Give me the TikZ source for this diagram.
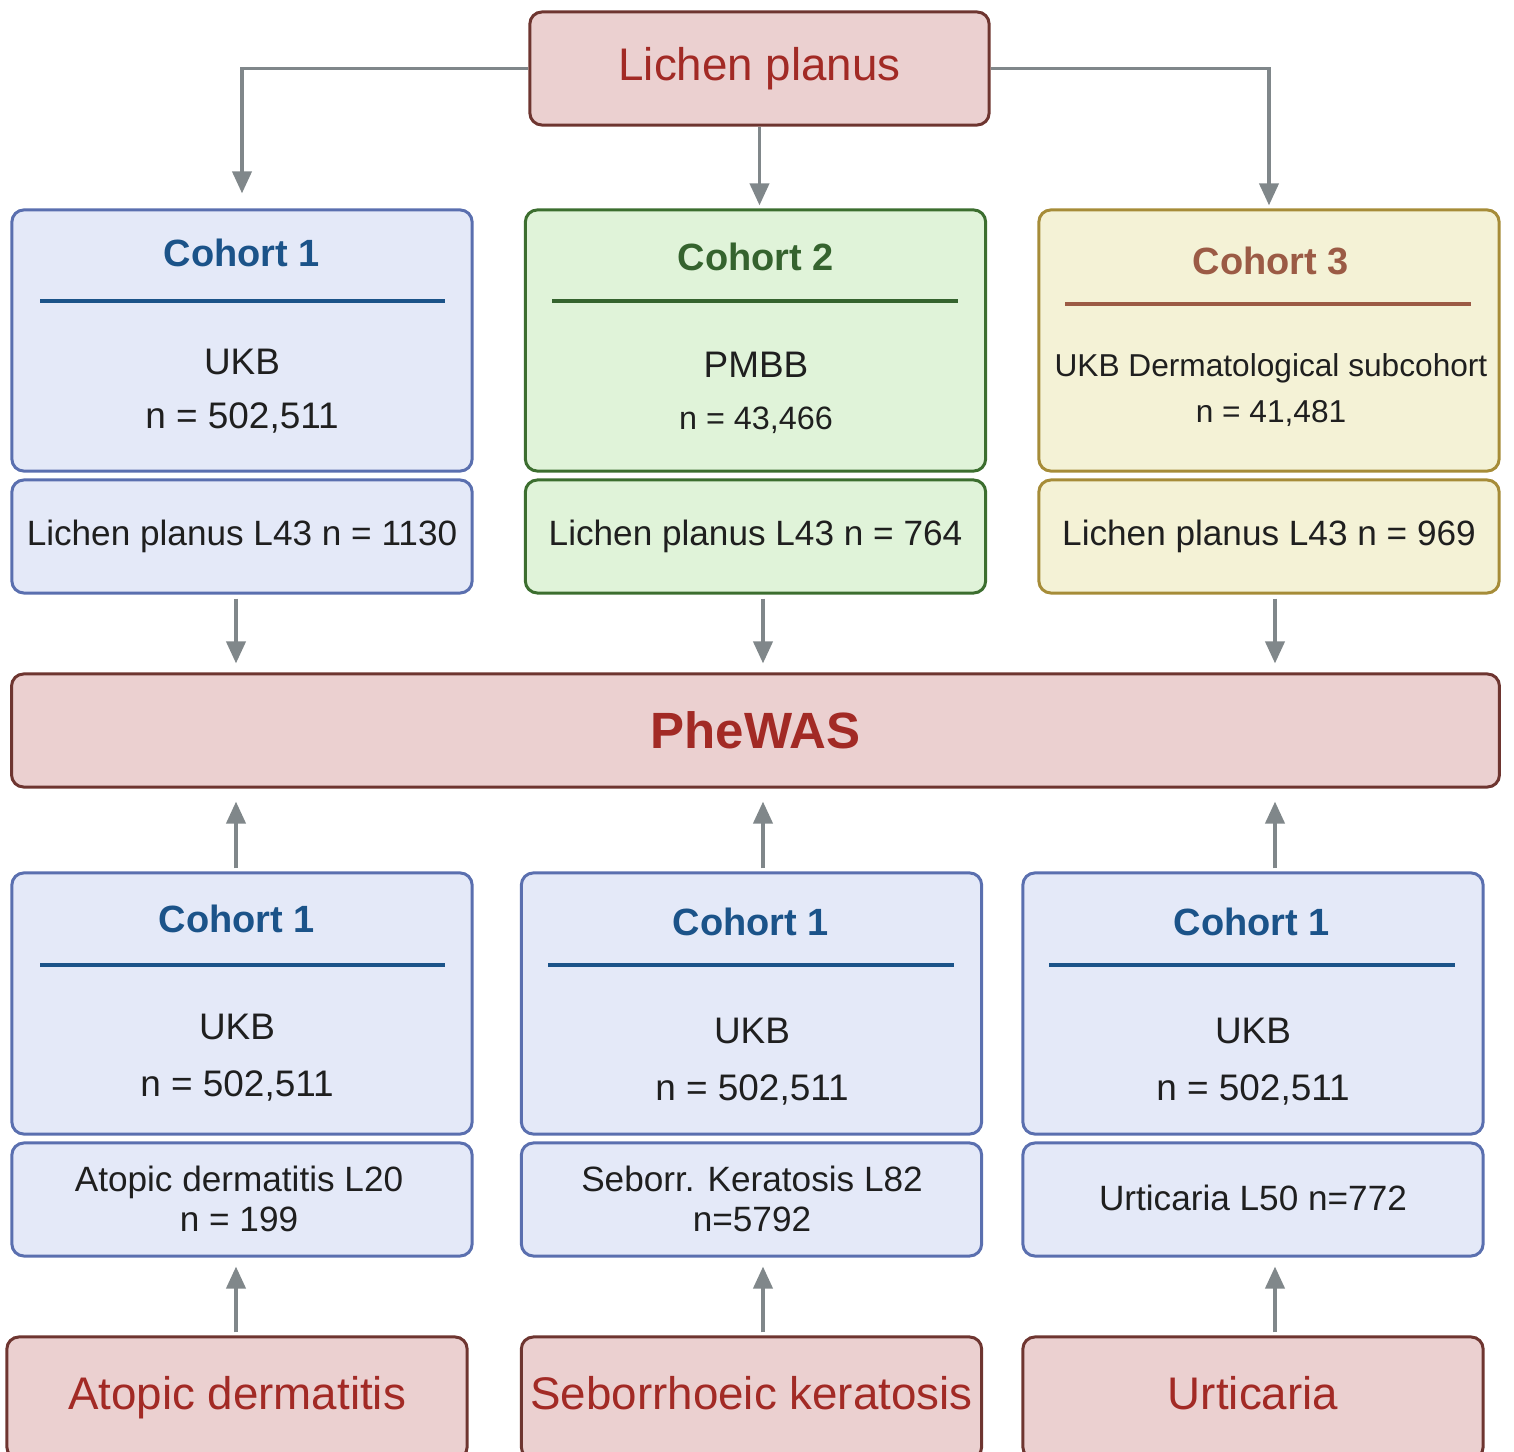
\documentclass[tikz,border=0pt]{standalone}
\usepackage{fontspec}
\setmainfont{Liberation Sans}
\usetikzlibrary{arrows.meta}
\definecolor{CohBlue}{HTML}{1B5389}
\definecolor{CohBlueFill}{HTML}{E4E9F8}
\definecolor{CohBlueLine}{HTML}{5A6FAF}
\definecolor{CohGreen}{HTML}{35632E}
\definecolor{CohGreenFill}{HTML}{E0F3D9}
\definecolor{CohGreenLine}{HTML}{3C6E2F}
\definecolor{CohBrown}{HTML}{9B5B45}
\definecolor{CohYellowFill}{HTML}{F4F2D6}
\definecolor{CohYellowLine}{HTML}{A68C38}
\definecolor{DisRed}{HTML}{A22A25}
\definecolor{DisRedFill}{HTML}{EBD0D0}
\definecolor{DisRedLine}{HTML}{6E3530}
\definecolor{ArrGray}{HTML}{80878A}
\definecolor{TxtDark}{HTML}{1F1F1F}
\tikzset{
  box/.style={draw, line width=0.85pt, rounded corners=0.12cm,
    minimum width=4.6cm, inner sep=0pt, align=center},
  bluebox/.style={box, fill=CohBlueFill, draw=CohBlueLine},
  greenbox/.style={box, fill=CohGreenFill, draw=CohGreenLine},
  yellowbox/.style={box, fill=CohYellowFill, draw=CohYellowLine},
  redbox/.style={box, fill=DisRedFill, draw=DisRedLine, text=DisRed,
    text height=9.5pt, text depth=2.8pt,
    font=\fontsize{13}{15}\selectfont},
  cohtitle/.style={font=\fontsize{10.8}{13}\selectfont\bfseries},
  cohtext/.style={text=TxtDark, font=\fontsize{10.5}{12}\selectfont},
  subtext/.style={text=TxtDark, align=center,
    font=\fontsize{10}{11.4}\selectfont},
  rule/.style={line width=1pt},
  arr/.style={draw=ArrGray, line width=1.1pt,
    -{Triangle[width=0.19cm, length=0.22cm]}}
}
\begin{document}
\begin{tikzpicture}[x=0.01cm, y=-0.01cm]
\useasboundingbox (0,0) rectangle (1514,1452);
\clip (0,0) rectangle (1514,1452);

\coordinate (colA) at (236,0);
\coordinate (colB) at (763,0);
\coordinate (colC) at (1275,0);

\node[redbox, minimum width=4.59cm, minimum height=1.13cm] (lp) at (759.5,68.5) {Lichen planus};

% lichen planus cohorts
\node[bluebox, minimum height=2.61cm] (c1) at (242,340.5) {};
\node[greenbox, minimum height=2.61cm] (c2) at (755.5,340.5) {};
\node[yellowbox, minimum height=2.61cm] (c3) at (1269,340.5) {};
\node[bluebox, minimum height=1.13cm] (s1) at (242,536.5) {};
\node[greenbox, minimum height=1.13cm] (s2) at (755.5,536.5) {};
\node[yellowbox, minimum height=1.13cm] (s3) at (1269,536.5) {};

\node[cohtitle, text=CohBlue] (c1t) at (242,253) {Cohort 1};
\draw[rule, CohBlue] (40,301) -- (445,301);
\node[cohtext] (c1a) at (242,362) {UKB};
\node[cohtext] (c1b) at (242,418) {n = 502,511};

\node[cohtitle, text=CohGreen] (c2t) at (756,257) {Cohort 2};
\draw[rule, CohGreen] (552,301) -- (958,301);
\node[cohtext] (c2a) at (756,365) {PMBB};
\node[cohtext, font=\fontsize{9.2}{11}\selectfont] (c2b) at (756,420) {n = 43,466};

\node[cohtitle, text=CohBrown] (c3t) at (1271,261) {Cohort 3};
\draw[rule, CohBrown] (1065,304) -- (1471,304);
\node[cohtext, font=\fontsize{9}{11}\selectfont] (c3a) at (1271,368) {UKB Dermatological subcohort};
\node[cohtext, font=\fontsize{9}{11}\selectfont] (c3b) at (1271,413) {n = 41,481};

\node[subtext] (s1t) at (242,536) {Lichen planus L43 n = 1130};
\node[subtext] (s2t) at (755.5,536) {Lichen planus L43 n = 764};
\node[subtext] (s3t) at (1269,536) {Lichen planus L43 n = 969};

\node[box, fill=DisRedFill, draw=DisRedLine, text=DisRed, minimum width=14.87cm,
      minimum height=1.13cm, font=\fontsize{14.5}{17}\selectfont\bfseries] (pw) at (755.5,730.5) {PheWAS};

% comparison cohorts
\node[bluebox, minimum height=2.61cm] (b1) at (242,1003.5) {};
\node[bluebox, minimum height=2.61cm] (b2) at (751.5,1003.5) {};
\node[bluebox, minimum height=2.61cm] (b3) at (1253,1003.5) {};
\node[bluebox, minimum height=1.13cm] (t1) at (242,1199.5) {};
\node[bluebox, minimum height=1.13cm] (t2) at (751.5,1199.5) {};
\node[bluebox, minimum height=1.13cm] (t3) at (1253,1199.5) {};

\node[cohtitle, text=CohBlue] (b1t) at (237,919) {Cohort 1};
\draw[rule, CohBlue] (40,965) -- (445,965);
\node[cohtext] (b1a) at (237,1027) {UKB};
\node[cohtext] (b1b) at (237,1086) {n = 502,511};

\node[cohtitle, text=CohBlue] (b2t) at (751,922) {Cohort 1};
\draw[rule, CohBlue] (548,965) -- (954,965);
\node[cohtext] (b2a) at (752,1031) {UKB};
\node[cohtext] (b2b) at (752,1090) {n = 502,511};

\node[cohtitle, text=CohBlue] (b3t) at (1252,922) {Cohort 1};
\draw[rule, CohBlue] (1049,965) -- (1455,965);
\node[cohtext] (b3a) at (1253,1031) {UKB};
\node[cohtext] (b3b) at (1253,1090) {n = 502,511};

\node[subtext] (t1t) at (239,1199) {Atopic dermatitis L20\\n = 199};
\node[subtext] (t2t) at (752,1199) {Seborr. Keratosis L82\\n=5792};
\node[subtext] (t3t) at (1253,1198) {Urticaria L50 n=772};

\node[redbox, minimum height=1.22cm] (d1) at (237,1398) {Atopic dermatitis};
\node[redbox, minimum height=1.22cm] (d2) at (751.5,1398) {Seborrhoeic keratosis};
\node[redbox, minimum height=1.22cm] (d3) at (1253,1398) {Urticaria};

% arrows
\draw[arr, shorten >=0.15cm] (lp.west) -| (c1.north);
\draw[arr, shorten >=0.03cm] (lp.south) -- (lp.south |- c2.north);
\draw[arr, shorten >=0.03cm] (lp.east) -| (c3.north);

\draw[arr, shorten <=0.04cm, shorten >=0.09cm] (s1.south -| colA) -- (pw.north -| colA);
\draw[arr, shorten <=0.04cm, shorten >=0.09cm] (s2.south -| colB) -- (pw.north -| colB);
\draw[arr, shorten <=0.04cm, shorten >=0.09cm] (s3.south -| colC) -- (pw.north -| colC);

\draw[arr, shorten <=0.03cm, shorten >=0.13cm] (b1.north -| colA) -- (pw.south -| colA);
\draw[arr, shorten <=0.03cm, shorten >=0.13cm] (b2.north -| colB) -- (pw.south -| colB);
\draw[arr, shorten <=0.03cm, shorten >=0.13cm] (b3.north -| colC) -- (pw.south -| colC);

\draw[arr, shorten <=0.03cm, shorten >=0.09cm] (d1.north -| colA) -- (t1.south -| colA);
\draw[arr, shorten <=0.03cm, shorten >=0.09cm] (d2.north -| colB) -- (t2.south -| colB);
\draw[arr, shorten <=0.03cm, shorten >=0.09cm] (d3.north -| colC) -- (t3.south -| colC);
\end{tikzpicture}
\end{document}
